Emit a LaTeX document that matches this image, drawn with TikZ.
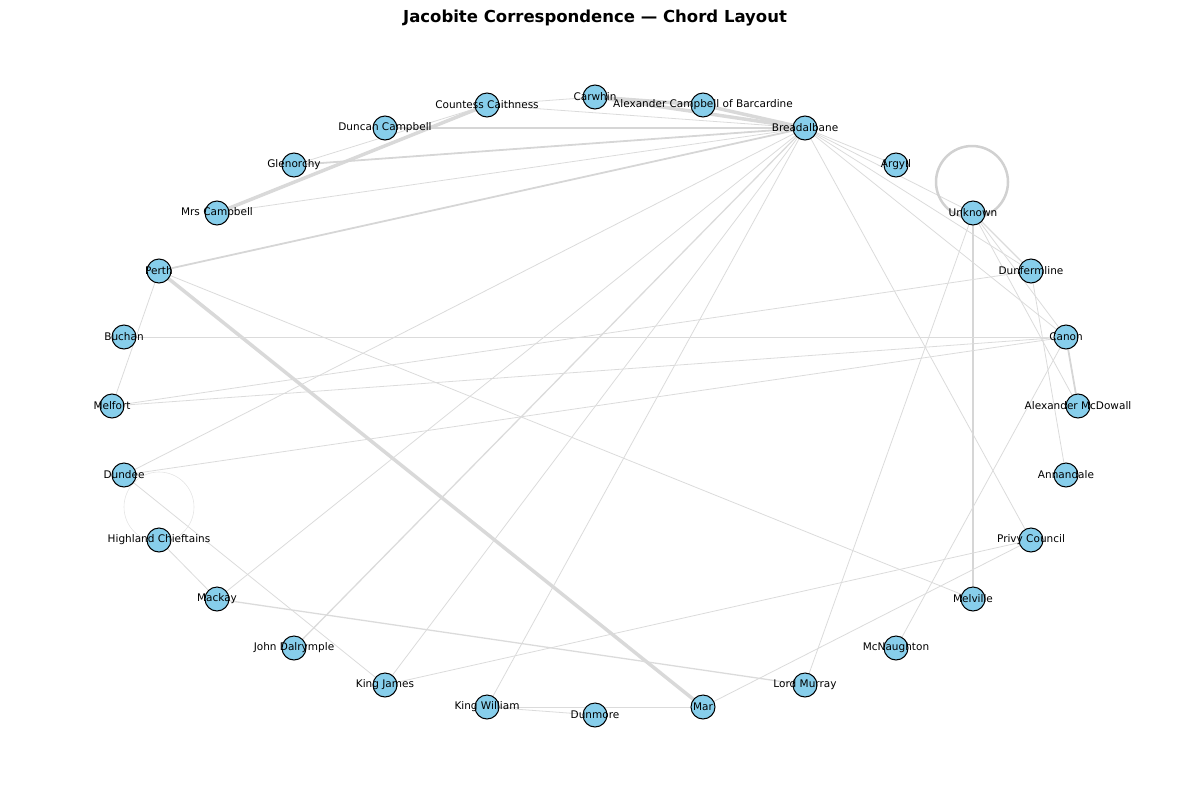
\documentclass[tikz,border=0pt]{standalone}
\usepackage{fontspec}
\setmainfont{DejaVu Sans}
\definecolor{sky}{HTML}{87CEEB}
\begin{document}
\begin{tikzpicture}[x=1pt,y=-1pt,
 nd/.style={circle,draw=black,fill=sky,minimum size=24pt,inner sep=0pt,line width=1pt},
 lb/.style={font=\fontsize{10.5}{12}\selectfont},
 e/.style={draw=black!14,line width=0.8pt},
 em/.style={draw=black!16,line width=1.8pt},
 et/.style={draw=black!15,line width=3.5pt}]
\useasboundingbox (0,0) rectangle (1189,790);
\node[font=\bfseries\fontsize{16.5}{19}\selectfont] (title) at (595,18) {Jacobite Correspondence — Chord Layout};
\foreach \n/\x/\y in {carwhin/595/97, acb/703/105, cc/487/105, dc/385/128, bre/805/128, gle/294/165, arg/896/165, mrs/217/213, unk/973/213, per/159/271, dun/1031/271, buc/124/337, can/1066/337, mel/112/406, amd/1078/406, dee/124/475, ann/1066/475, hc/159/540, pc/1031/540, mac/217/599, mev/973/599, jd/294/648, mcn/896/648, kj/385/685, lm/805/685, kw/487/707, dmo/595/715, mar/703/707}
  \coordinate (\n) at (\x,\y);
\draw[et] (bre)--(carwhin); \draw[et] (bre)--(acb); \draw[et] (carwhin)--(acb);
\draw[et] (cc)--(mrs); \draw[et] (per)--(mar);
\draw[em] (bre)--(per); \draw[em] (bre)--(gle); \draw[em] (bre)--(dc);
\draw[em] (can)--(amd); \draw[em] (unk)--(mev);
\draw[e] (bre)--(cc); \draw[e] (bre)--(mrs); \draw[e] (bre)--(arg); \draw[e] (bre)--(unk);
\draw[e] (bre)--(dun); \draw[e] (bre)--(can); \draw[e] (bre)--(dee); \draw[e] (bre)--(mac);
\draw[e,line width=1.3pt] (bre)--(jd); \draw[e] (bre)--(kj); \draw[e] (bre)--(kw); \draw[e] (bre)--(pc);
\draw[e] (cc)--(gle); \draw[e] (carwhin)--(cc);
\draw[e] (per)--(mel); \draw[e] (per)--(mev);
\draw[e] (buc)--(can); \draw[e] (mel)--(dun); \draw[e] (mel)--(can);
\draw[e] (dee)--(can); \draw[e] (dee)--(kj); \draw[e] (hc)--(mac);
\draw[e,line width=1.3pt] (mac)--(lm); \draw[e] (kw)--(dmo); \draw[e] (kw)--(mar);
\draw[e] (mar)--(pc); \draw[e] (kj)--(pc);
\draw[e] (unk)--(lm); \draw[e] (unk)--(can); \draw[e] (unk)--(amd); \draw[e,line width=1.3pt] (unk)--(dun);
\draw[e] (dun)--(ann); \draw[e] (can)--(mcn);
\draw[draw=black!18,line width=2.5pt] (972,182) circle (36);
\draw[draw=black!10,line width=0.6pt] (159,507) circle (35);
\foreach \n/\t in {carwhin/Carwhin, acb/Alexander Campbell of Barcardine, cc/Countess Caithness, dc/Duncan Campbell, bre/Breadalbane, gle/Glenorchy, arg/Argyll, mrs/Mrs Campbell, unk/Unknown, per/Perth, dun/Dunfermline, buc/Buchan, can/Canon, mel/Melfort, amd/Alexander McDowall, dee/Dundee, ann/Annandale, hc/Highland Chieftains, pc/Privy Council, mac/Mackay, mev/Melville, jd/John Dalrymple, mcn/McNaughton, kj/King James, lm/Lord Murray, kw/King William, dmo/Dunmore, mar/Mar}
 {\node[nd] (n\n) at (\n) {}; \node[lb] (l\n) at (\n) {\t};}
\end{tikzpicture}
\end{document}
